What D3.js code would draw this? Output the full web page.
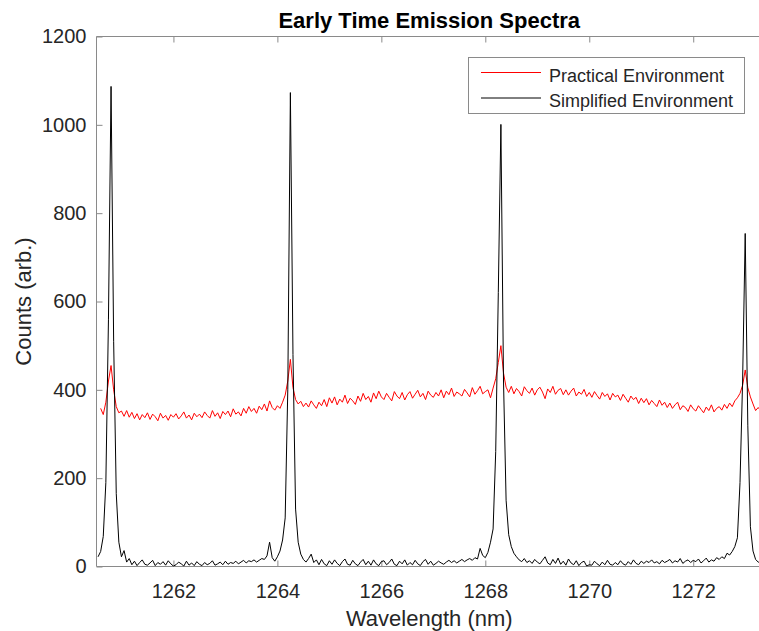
<!DOCTYPE html>
<html lang="en">
  <head>
    <meta charset="UTF-8" />
    <title>Early Time Emission Spectra</title>
    <style>
      body { margin: 0; background: #fff; }
      svg { display: block; font-family: "Liberation Sans", Arial, sans-serif; }
      .tick text { fill: #262626; font-size: 20px; }
      .tick line { stroke: #8a8a8a; }
      .domain { stroke: none; }
    </style>
  </head>

  <body>

    <script src="https://cdn.jsdelivr.net/npm/d3@7/dist/d3.min.js"></script>
    <script>

    // wavelength grid of the spectrometer (nm)
    var wlStart = 1260.55,
        wlStep = 0.05;

    // Simplified Environment (black), rows of 0.5 nm
    var simplified = [
      22, 34, 68, 190, 560, 1087, 510, 165, 55, 22,
      36, 10, 18, 4, 12, 2, 9, 15, 5, 3,
      8, 14, 2, 9, 5, 11, 3, 13, 6, 1,
      4, 10, 6, 1, 12, 3, 8, 2, 11, 5,
      2, 9, 4, 7, 13, 3, 6, 10, 4, 12,
      5, 9, 7, 12, 6, 10, 14, 8, 13, 11,
      15, 10, 14, 18, 16, 24, 55, 20, 12, 22,
      35, 60, 110, 400, 1073, 480, 130, 55, 28, 16,
      10, 18, 28, 9, 15, 4, 16, 6, 2, 13,
      5, 15, 7, 2, 11, 17, 5, 3, 14, 6,
      2, 10, 16, 4, 12, 3, 15, 6, 2, 11,
      13, 4, 9, 17, 5, 2, 12, 6, 15, 3,
      9, 4, 14, 6, 2, 11, 16, 5, 12, 3,
      7, 12, 8, 5, 10, 14, 9, 13, 8, 12,
      16, 11, 15, 18, 14, 20, 17, 41, 25, 20,
      32, 55, 85, 260, 620, 1001, 420, 150, 72, 45,
      30, 22, 15, 11, 18, 9, 13, 7, 16, 10,
      6, 14, 22, 8, 4, 16, 7, 19, 5, 12,
      3, 17, 8, 4, 13, 2, 9, 12, 1, 4,
      3, 12, 6, 2, 10, 4, 14, 5, 3, 9,
      4, 13, 6, 3, 11, 5, 15, 7, 4, 12,
      7, 12, 9, 15, 8, 11, 6, 14, 9, 12,
      16, 8, 13, 10, 18, 7, 12, 15, 9, 14,
      11, 17, 8, 13, 19, 10, 15, 12, 20, 16,
      22, 18, 30, 26, 34, 45, 65, 190, 420, 754,
      320, 90, 35, 16, 10, 8, 12, 9
    ];

    // Practical Environment (red), same grid; starts one step later
    var practical = [
      null, 358, 344, 372, 420, 455, 400, 362, 348, 352,
      340, 353, 338, 349, 335, 346, 332, 344, 337, 348,
      333, 345, 339, 330, 347, 336, 342, 331, 344, 338,
      346, 334, 341, 350, 336, 343, 332, 347, 339, 345,
      337, 350, 342, 336, 353, 340, 348, 335, 351, 344,
      352, 339, 357, 345, 350, 341, 358, 347, 362, 351,
      358, 347, 363, 355, 368, 352, 375, 360, 354, 364,
      358, 372, 388, 420, 469, 405, 378, 368, 374, 362,
      370, 361, 375, 366, 358, 372, 364, 378, 362, 382,
      370, 384, 366, 379, 372, 388, 369, 381, 375, 367,
      386, 374, 392, 378, 385, 372, 393, 380, 397, 384,
      378, 392, 383, 375, 396, 386, 380, 394, 377, 389,
      396, 381, 390, 399, 384, 392, 378, 397, 388, 383,
      394, 386, 400, 382, 397, 389, 404, 385, 395, 391,
      386, 401, 393, 384, 405, 390, 398, 408, 391, 396,
      400, 382, 404, 425, 462, 500, 438, 406, 394, 408,
      391, 403, 396, 386, 407, 398, 392, 404, 388, 400,
      406, 395, 380, 402, 394, 408, 390, 399, 403, 389,
      400, 388, 397, 404, 386, 395, 390, 401, 385, 394,
      383, 396, 387, 379, 394, 385, 391, 377, 392, 384,
      388, 376, 390, 381, 372, 386, 378, 383, 369, 381,
      371, 380, 366, 376, 369, 362, 377, 365, 372, 360,
      370, 358, 366, 372, 355, 364, 360, 351, 366, 357,
      352, 364, 356, 348, 361, 353, 366, 350, 358, 362,
      354, 367, 358, 370, 362, 375, 382, 392, 410, 445,
      405, 384, 368, 353, 360, 352, 365, 357
    ];

    var xTicks = [1262, 1264, 1266, 1268, 1270, 1272],
        yTicks = [0, 200, 400, 600, 800, 1000, 1200];

    var seriesNames = ["Practical Environment", "Simplified Environment"],
        seriesColors = ["#ff0000", "#000000"];

    var w = 759,
        h = 631;

    var box = { left: 96.5, right: 766, top: 36.5, bottom: 566.5 };

    var svg = d3.select("body").append("svg")
      .attr("width", w)
      .attr("height", h);

    var xScale = d3.scaleLinear()
      .domain([1260.52, 1273.4])
      .range([box.left, box.right]);

    var yScale = d3.scaleLinear()
      .domain([0, 1200])
      .range([box.bottom, box.top]);

    svg.append("clipPath")
       .attr("id", "plot-clip")
       .append("rect")
       .attr("x", box.left)
       .attr("y", box.top)
       .attr("width", box.right - box.left)
       .attr("height", box.bottom - box.top);

    function toPoints(values) {
      return values.map(function(v, i) {
        return { wl: wlStart + i * wlStep, v: v };
      });
    }

    var line = d3.line()
      .defined(function(d) { return d.v !== null; })
      .x(function(d) { return xScale(d.wl); })
      .y(function(d) { return yScale(d.v); });

    // axes: ticks point inward like the original figure
    var fmt = d3.format("d");

    svg.append("g")
       .attr("transform", "translate(0," + box.bottom + ")")
       .call(d3.axisBottom(xScale).tickValues(xTicks).tickFormat(fmt).tickSize(-6).tickPadding(17));

    svg.append("g")
       .attr("transform", "translate(0," + box.top + ")")
       .call(d3.axisTop(xScale).tickValues(xTicks).tickSize(-6).tickFormat(""));

    svg.append("g")
       .attr("transform", "translate(" + box.left + ",0)")
       .call(d3.axisLeft(yScale).tickValues(yTicks).tickFormat(fmt).tickSize(-6).tickPadding(10));

    // box lines (right edge falls outside the window)
    svg.append("path")
       .attr("d", "M" + box.right + "," + box.top + "H" + box.left + "V" + box.bottom + "H" + box.right)
       .attr("fill", "none")
       .attr("stroke", "#8a8a8a");

    var plot = svg.append("g").attr("clip-path", "url(#plot-clip)");

    plot.append("path")
        .datum(toPoints(practical))
        .attr("fill", "none")
        .attr("stroke", seriesColors[0])
        .attr("stroke-width", 1)
        .attr("d", line);

    plot.append("path")
        .datum(toPoints(simplified))
        .attr("fill", "none")
        .attr("stroke", seriesColors[1])
        .attr("stroke-width", 1)
        .attr("d", line);

    // title and axis labels
    svg.append("text")
       .attr("x", (box.left + box.right) / 2 - 2)
       .attr("y", 28)
       .attr("text-anchor", "middle")
       .attr("font-weight", "bold")
       .attr("font-size", 22)
       .attr("fill", "#000")
       .text("Early Time Emission Spectra");

    svg.append("text")
       .attr("x", (box.left + box.right) / 2 - 2)
       .attr("y", 626)
       .attr("text-anchor", "middle")
       .attr("font-size", 22)
       .attr("fill", "#262626")
       .text("Wavelength (nm)");

    svg.append("text")
       .attr("transform", "translate(31," + (box.top + box.bottom) / 2 + ") rotate(-90)")
       .attr("text-anchor", "middle")
       .attr("font-size", 22)
       .attr("fill", "#262626")
       .text("Counts (arb.)");

    // legend
    var legend = svg.append("g");

    legend.append("rect")
          .attr("x", 468.5)
          .attr("y", 57.5)
          .attr("width", 276)
          .attr("height", 56)
          .attr("fill", "#fff")
          .attr("stroke", "#8a8a8a");

    seriesNames.forEach(function(name, i) {
      var yy = 72.5 + i * 25.5;
      legend.append("line")
            .attr("x1", 481)
            .attr("x2", 541)
            .attr("y1", yy)
            .attr("y2", yy)
            .attr("stroke", seriesColors[i])
            .attr("stroke-width", 1);
      legend.append("text")
            .attr("x", 549)
            .attr("y", yy + 9)
            .attr("font-size", 18)
            .attr("fill", "#262626")
            .text(name);
    });

    </script>
  </body>
</html>
